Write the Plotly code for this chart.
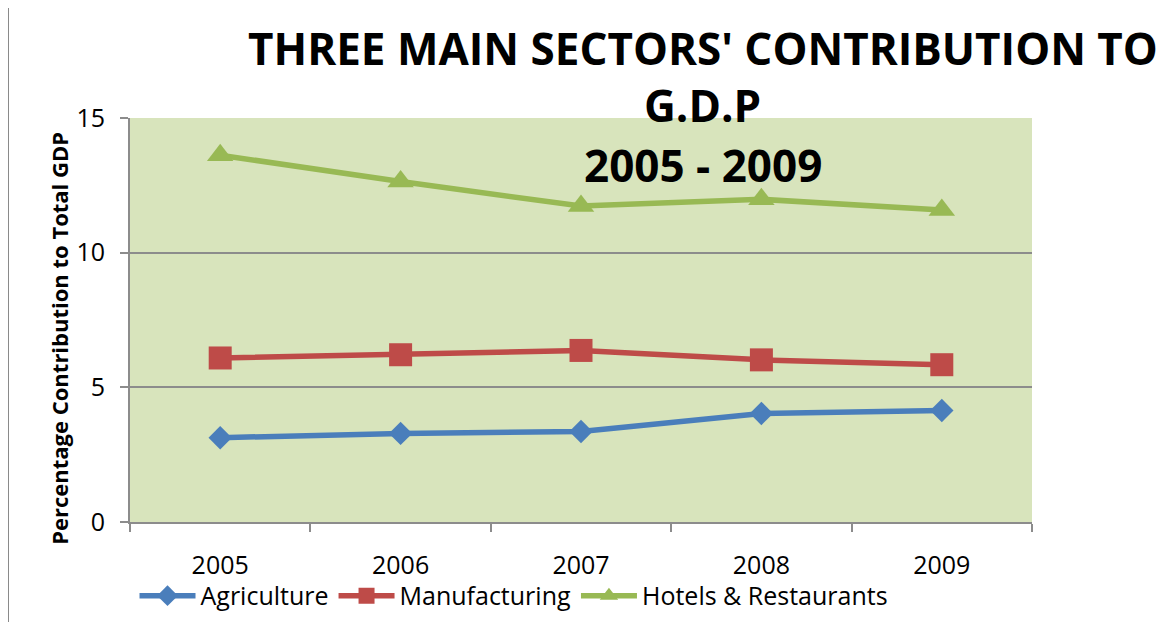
import plotly.graph_objects as go

# values
years = ["2005", "2006", "2007", "2008", "2009"]
agriculture = [3.13, 3.29, 3.36, 4.03, 4.14]
manufacturing = [6.09, 6.21, 6.37, 6.02, 5.84]
hotels = [13.62, 12.64, 11.73, 11.98, 11.58]
y_ticks = [0, 5, 10, 15]

FONT = "Open Sans"
GRID = "#8c8c8c"

fig = go.Figure()

series = [
    ("Agriculture", agriculture, "#4a7ebb", "diamond", 18),
    ("Manufacturing", manufacturing, "#be4b48", "square", 23),
    ("Hotels & Restaurants", hotels, "#98b954", "triangle-up", 23),
]
for name, vals, color, symbol, size in series:
    fig.add_trace(go.Scatter(
        x=years, y=vals, name=name, mode="lines+markers",
        line=dict(color=color, width=5.5),
        marker=dict(symbol=symbol, size=size, color=color),
        hoverinfo="skip",
    ))

# the page body has an 8px margin, so the margins are shifted by 8px
fig.update_layout(
    width=1175, height=622,
    margin=dict(l=122, r=151, t=110, b=107),
    paper_bgcolor="white",
    plot_bgcolor="#d8e4bc",
    font=dict(family=FONT, color="black"),
    showlegend=True,
    legend=dict(
        orientation="h", x=0.005, xanchor="left", y=-0.18, yanchor="middle",
        font=dict(size=25, family=FONT), itemwidth=56,
        bgcolor="rgba(0,0,0,0)", traceorder="normal",
    ),
)

fig.update_xaxes(
    type="category", tickson="boundaries", automargin=False,
    ticks="outside", ticklen=8, tickcolor=GRID, tickwidth=2,
    showline=True, linecolor=GRID, linewidth=2,
    showgrid=False, ticklabelstandoff=20,
    tickfont=dict(size=25, family=FONT), range=[-0.5, 4.5],
)
fig.update_yaxes(
    range=[0, 15], tickvals=y_ticks, automargin=False,
    ticks="outside", ticklen=8, tickcolor=GRID, tickwidth=2,
    showline=True, linecolor=GRID, linewidth=2,
    showgrid=True, gridcolor=GRID, gridwidth=1.5,
    zeroline=False, ticklabelstandoff=10,
    tickfont=dict(size=25, family=FONT),
)

# title lines, placed as in the original
title_lines = [
    ("THREE MAIN SECTORS' CONTRIBUTION TO", 1.173),
    ("G.D.P", 1.032),
    ("2005 - 2009", 0.884),
]
for text, ypos in title_lines:
    fig.add_annotation(
        text="<b>%s</b>" % text, xref="paper", yref="paper",
        x=0.635, y=ypos, xanchor="center", yanchor="middle",
        showarrow=False, font=dict(size=44, family=FONT, color="black"),
    )

fig.add_annotation(
    text="<b>Percentage Contribution to Total GDP</b>",
    xref="paper", yref="paper", x=-0.078, y=0.455,
    xanchor="center", yanchor="middle", textangle=-90,
    showarrow=False, font=dict(size=22, family=FONT, color="black"),
)

# chart frame (runs off the right and bottom edge like the original)
fig.add_shape(
    type="rect", xref="paper", yref="paper",
    x0=-0.1353, y0=1.279, x1=1.25, y1=-0.3,
    line=dict(color="#868686", width=2), fillcolor="rgba(0,0,0,0)",
)

fig.write_html("out.html", config={"displayModeBar": False})
